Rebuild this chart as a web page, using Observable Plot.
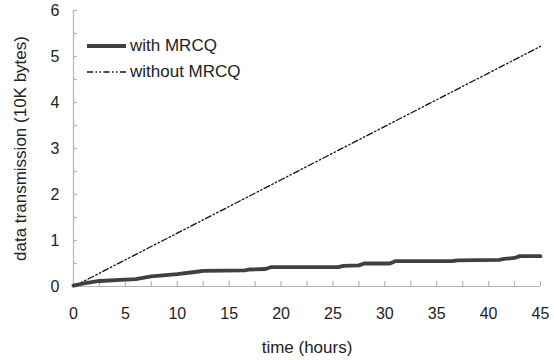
<!DOCTYPE html>
<html>
<head>
<meta charset="utf-8">
<script src="https://cdn.jsdelivr.net/npm/d3@7"></script>
<script src="https://cdn.jsdelivr.net/npm/@observablehq/plot@0.6"></script>
<style>
  body { margin: 0; background: #fff; }
  #wrap { position: relative; width: 554px; height: 360px; font-family: Arial, "Liberation Sans", sans-serif; }
  #legend { position: absolute; left: 86px; top: 33px; font-size: 17px; color: #222; }
  .row { display: flex; align-items: center; height: 26px; }
  .row svg { margin-right: 4px; }
</style>
</head>
<body>
<div id="wrap"></div>
<script>
// Transmission time (hours) and cumulative data (10K bytes) with MRCQ
const mrcqHours = [0, 1, 2.5, 5, 6, 7.5, 10, 11.5, 12.5, 16.5, 17, 18.5, 19, 25.5, 26, 27.5, 28, 30.5, 31, 36.5, 37, 41, 41.5, 42.5, 43, 45];
const mrcqData  = [0.02, 0.07, 0.12, 0.15, 0.16, 0.22, 0.27, 0.31, 0.34, 0.35, 0.37, 0.38, 0.42, 0.42, 0.45, 0.46, 0.5, 0.5, 0.55, 0.55, 0.57, 0.58, 0.6, 0.62, 0.66, 0.66];

// Without MRCQ
const plainHours = [0, 5, 10, 15, 20, 25, 30, 35, 40, 45];
const plainData  = [0, 0.58, 1.16, 1.74, 2.32, 2.9, 3.48, 4.06, 4.64, 5.22];

const xLabels = [0, 5, 10, 15, 20, 25, 30, 35, 40, 45];
const xMinor  = d3.range(0, 45.01, 2.5);
const yLabels = [0, 1, 2, 3, 4, 5, 6];
const yMinor  = d3.range(0, 6.01, 0.5);

const seriesNames = ["with MRCQ", "without MRCQ"];

const mrcq = mrcqHours.map((t, i) => ({t, v: mrcqData[i]}));
const plain = plainHours.map((t, i) => ({t, v: plainData[i]}));

const W = 554, H = 360;
const M = {left: 73, right: 14, top: 10, bottom: 74};
const plotW = W - M.left - M.right;
const plotH = H - M.top - M.bottom;

const axisGray = "#b4b4b4";
const dashDot = "6,2.5,1.5,2.5,1.5,2.5";

const chart = Plot.plot({
  width: W,
  height: H,
  marginLeft: M.left,
  marginRight: M.right,
  marginTop: M.top,
  marginBottom: M.bottom,
  style: {fontFamily: "Arial, 'Liberation Sans', sans-serif", fontSize: "16px", color: "#222", background: "#fff"},
  x: {domain: [0, 45], axis: null},
  y: {domain: [0, 6], axis: null},
  marks: [
    // inward-pointing tick marks
    Plot.tickX(xMinor, {x: d => d, stroke: axisGray, strokeWidth: 1.2, insetTop: plotH - 5}),
    Plot.tickY(yMinor, {y: d => d, stroke: axisGray, strokeWidth: 1.2, insetRight: plotW - 4}),
    // tick labels
    Plot.text(xLabels, {x: d => d, frameAnchor: "bottom", lineAnchor: "middle", dy: 27, fontSize: 16, fill: "#222"}),
    Plot.text(yLabels, {y: d => d, frameAnchor: "left", textAnchor: "end", dx: -14, fontSize: 16, fill: "#222"}),
    Plot.ruleY([0], {stroke: axisGray, strokeWidth: 1.2}),
    Plot.ruleX([0], {stroke: axisGray, strokeWidth: 1.2}),
    Plot.line(plain, {x: "t", y: "v", stroke: "#111", strokeWidth: 1.3, strokeDasharray: dashDot}),
    Plot.line(mrcq, {x: "t", y: "v", stroke: "#404040", strokeWidth: 3.8}),
    Plot.text(["time (hours)"], {frameAnchor: "bottom", lineAnchor: "middle", dy: 61, fontSize: 17, fill: "#222"}),
    Plot.text(["data transmission (10K bytes)"], {frameAnchor: "left", textAnchor: "middle", dx: -53, rotate: -90, fontSize: 17, fill: "#222"})
  ]
});

const wrap = document.getElementById("wrap");
wrap.appendChild(chart);

// Legend inside the plot area, upper left
const legend = document.createElement("div");
legend.id = "legend";
legend.innerHTML = `
  <div class="row"><svg width="40" height="8"><line x1="1" y1="4" x2="40" y2="4" stroke="#404040" stroke-width="4"/></svg><span>${seriesNames[0]}</span></div>
  <div class="row"><svg width="40" height="8"><line x1="1" y1="4" x2="40" y2="4" stroke="#111" stroke-width="1.3" stroke-dasharray="${dashDot}"/></svg><span>${seriesNames[1]}</span></div>`;
wrap.appendChild(legend);
</script>
</body>
</html>
